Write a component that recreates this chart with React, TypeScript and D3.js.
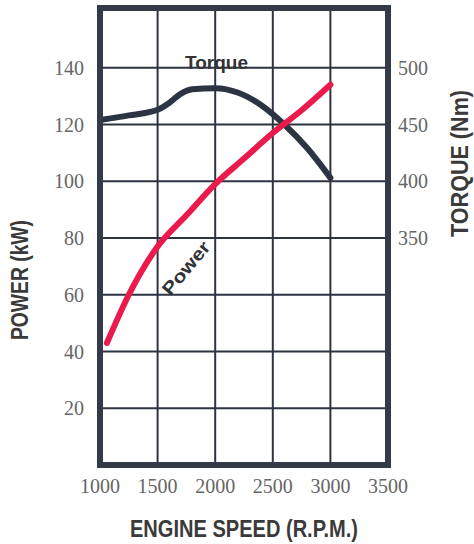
import * as d3 from 'd3';

// rpm / kW and rpm / Nm
const powerRpm = [1060, 1250, 1500, 1750, 2000, 2250, 2500, 2750, 3000];
const powerKw = [43, 60, 77, 88, 99, 108, 117, 125, 134];
const torqueRpm = [1000, 1250, 1500, 1600, 1700, 1800, 2000, 2200, 2400, 2600, 2800, 3000];
const torqueNm = [454, 458, 463, 469, 477, 481, 482, 478, 467, 450, 429, 403];

const rpmTicks = [1000, 1500, 2000, 2500, 3000, 3500];
const powerTicks = [20, 40, 60, 80, 100, 120, 140];
const torqueTicks = [350, 400, 450, 500];

const W = 474;
const H = 544;

export default function App() {
  const x = d3.scaleLinear().domain([1000, 3500]).range([100, 388]);
  const y = d3.scaleLinear().domain([0, 160]).range([465, 11]);
  // 50 Nm per 20 kW, 500 Nm on the 140 kW line
  const yT = d3.scaleLinear().domain([150, 550]).range([465, 11]);

  const powerLine = d3
    .line<number>()
    .x((_, i) => x(powerRpm[i]))
    .y((d) => y(d))
    .curve(d3.curveMonotoneX);
  const torqueLine = d3
    .line<number>()
    .x((_, i) => x(torqueRpm[i]))
    .y((d) => yT(d))
    .curve(d3.curveMonotoneX);

  const grid = '#2e3340';
  const tickFont = { fontFamily: 'Liberation Serif', fontSize: 20, fill: '#666' };
  const titleFont = {
    fontFamily: 'Liberation Sans, Arial, sans-serif',
    fontWeight: 'bold' as const,
    fontSize: 23,
    fill: '#3a3a3a',
    lengthAdjust: 'spacingAndGlyphs',
  };

  const x0 = x(1000), x1 = x(3500);
  const yTop = y(160) - 3, yBot = y(0);

  return (
    <svg
      width={W}
      height={H}
      style={{ position: 'absolute', left: 0, top: 0, background: '#fff' }}
    >
      {powerTicks.map((t) => (
        <line key={'h' + t} x1={x0} x2={x1} y1={y(t)} y2={y(t)} stroke={grid} strokeWidth={2} />
      ))}
      {rpmTicks.slice(1, -1).map((t) => (
        <line key={'v' + t} x1={x(t)} x2={x(t)} y1={yTop} y2={yBot} stroke={grid} strokeWidth={2} />
      ))}

      <path d={torqueLine(torqueNm) ?? ''} fill="none" stroke="#2c3444" strokeWidth={6} strokeLinecap="round" />
      <path d={powerLine(powerKw) ?? ''} fill="none" stroke="#ea1a4c" strokeWidth={6} strokeLinecap="round" />

      <rect
        x={x0}
        y={yTop}
        width={x1 - x0}
        height={yBot - yTop}
        fill="none"
        stroke="#343a4a"
        strokeWidth={6}
      />

      {powerTicks.map((t) => (
        <text key={'pl' + t} x={84} y={y(t)} dy="0.35em" textAnchor="end" {...tickFont}>
          {t}
        </text>
      ))}
      {torqueTicks.map((t) => (
        <text key={'tl' + t} x={398} y={yT(t)} dy="0.35em" textAnchor="start" {...tickFont}>
          {t}
        </text>
      ))}
      {rpmTicks.map((t) => (
        <text key={'xl' + t} x={x(t)} y={493} textAnchor="middle" {...tickFont}>
          {t}
        </text>
      ))}

      <text x={185} y={69} {...titleFont} fontSize={18} fill="#333" textLength={63}>
        Torque
      </text>
      <text
        x={-32}
        y={0}
        transform={`translate(186,268) rotate(-50)`}
        {...titleFont}
        fontSize={18}
        fill="#333"
        dy="0.35em"
        textLength={64}
      >
        Power
      </text>

      <text x={130} y={537} {...titleFont} textLength={228}>
        ENGINE SPEED (R.P.M.)
      </text>
      <text transform="translate(28,340) rotate(-90)" {...titleFont} textLength={120}>
        POWER (kW)
      </text>
      <text transform="translate(468,237) rotate(-90)" {...titleFont} textLength={147}>
        TORQUE (Nm)
      </text>
    </svg>
  );
}
